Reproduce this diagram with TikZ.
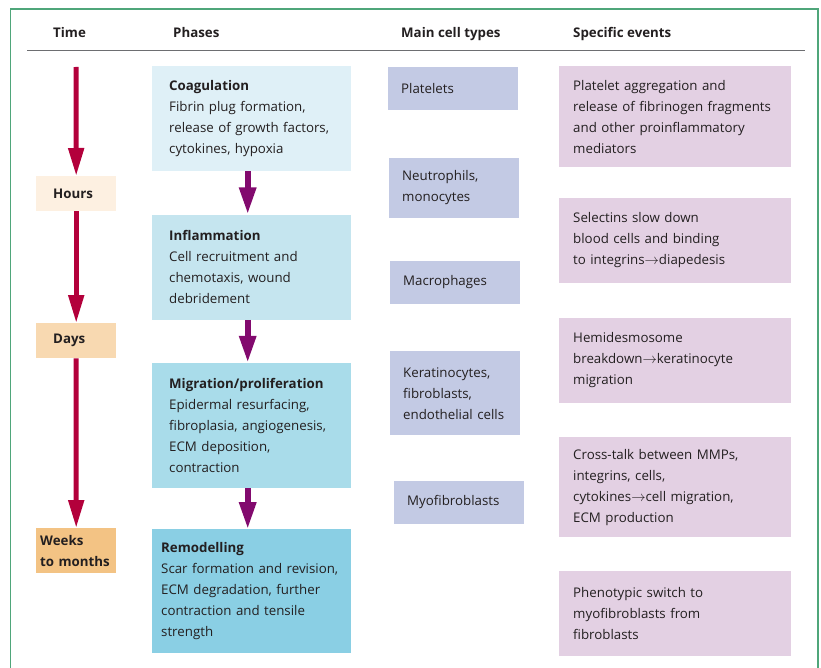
\documentclass[tikz,border=0pt]{standalone}
\usepackage{fontspec}
\setmainfont{Open Sans}
\usetikzlibrary{positioning,arrows.meta}
\definecolor{ink}{HTML}{231F20}
\definecolor{framegreen}{HTML}{4FA67A}
\definecolor{rulegray}{HTML}{6D6E71}
\definecolor{crimson}{HTML}{B3003B}
\definecolor{plum}{HTML}{820A6E}
\definecolor{phA}{HTML}{DFF0F7}
\definecolor{phB}{HTML}{C5E5EF}
\definecolor{phC}{HTML}{A9DCEA}
\definecolor{phD}{HTML}{8ACFE4}
\definecolor{tmA}{HTML}{FDF0E1}
\definecolor{tmB}{HTML}{F8D9B1}
\definecolor{tmC}{HTML}{F3C384}
\definecolor{cellc}{HTML}{C3CAE4}
\definecolor{evc}{HTML}{E3D0E3}
\newcommand{\txtsize}{\fontsize{13.3bp}{21bp}\selectfont}

\begin{document}
\begin{tikzpicture}[
  x=1bp, y=-1bp,
  box/.style={align=left, inner ysep=3bp, font=\txtsize, text=ink},
  phase/.style={box, text width=165bp, inner xsep=17bp},
  cell/.style={box, fill=cellc, text width=104bp, inner xsep=13bp},
  event/.style={box, fill=evc, text width=204bp, inner xsep=14bp},
  span/.style={box, font=\txtsize\bfseries, text width=46bp, inner xsep=17bp},
  head/.style={font=\txtsize\bfseries, text=ink, anchor=base west, inner sep=0pt},
  tarr/.style={-{Triangle[length=28bp,width=15bp]}, line width=5bp, draw=crimson},
  parr/.style={-{Triangle[length=27bp,width=16bp]}, line width=6bp, draw=plum}
]
\useasboundingbox (0,0) rectangle (821,668);
\draw[framegreen, line width=1.5bp] (10.5,668) -- (10.5,9) -- (818,9) -- (818,668);
\draw[rulegray, line width=1bp] (27,50.5) -- (805,50.5);

\node[head] (htime) at (53,38) {Time};
\node[head] (hphase) at (173,38) {Phases};
\node[head] (hcell) at (401,38) {Main cell types};
\node[head] (hevent) at (573,38) {Specific events};

% phases
\node[phase, fill=phA, minimum height=105bp, anchor=north west] (coag) at (152,66) {\textbf{Coagulation}\\Fibrin plug formation,\\release of growth factors,\\cytokines, hypoxia};
\node[phase, fill=phB, minimum height=105bp, below=43bp of coag] (infl) {\textbf{Inflammation}\\Cell recruitment and\\chemotaxis, wound\\debridement};
\node[phase, fill=phC, minimum height=125bp, below=43bp of infl] (migr) {\textbf{Migration/proliferation}\\Epidermal resurfacing,\\fibroplasia, angiogenesis,\\ECM deposition,\\contraction};
\node[phase, fill=phD, minimum height=124bp, below=41bp of migr, inner xsep=9bp, text width=181bp] (remod) {\textbf{Remodelling}\\Scar formation and revision,\\ECM degradation, further\\contraction and tensile\\strength};

% time
\coordinate (tstart) at (76,67);
\node[span, fill=tmA, minimum height=35bp, anchor=north west] (hours) at (36,176) {Hours};
\node[span, fill=tmB, minimum height=35bp, anchor=north west] (days) at (36,323) {Days};
\node[span, fill=tmC, minimum height=45bp, anchor=north west, inner xsep=4bp, text width=72bp] (weeks) at (36,528) {Weeks\\to months};

% cell types
\node[cell, minimum height=43bp, anchor=north west] (plat) at (388,67) {Platelets};
\node[cell, minimum height=60bp, below=47bp of plat, xshift=1bp] (neut) {Neutrophils,\\monocytes};
\node[cell, minimum height=43bp, below=43bp of neut, xshift=1bp] (macro) {Macrophages};
\node[cell, minimum height=84bp, below=47bp of macro] (kera) {Keratinocytes,\\fibroblasts,\\endothelial cells};
\node[cell, minimum height=43bp, below=45bp of kera, xshift=4bp] (myo) {Myofibroblasts};

% specific events
\node[event, minimum height=101bp, anchor=north west] (evA) at (559,66) {Platelet aggregation and\\release of fibrinogen fragments\\and other proinflammatory\\mediators};
\node[event, minimum height=85bp, below=30bp of evA] (evB) {Selectins slow down\\blood cells and binding\\to integrins$\rightarrow$diapedesis};
\node[event, minimum height=85bp, below=35bp of evB] (evC) {Hemidesmosome\\breakdown$\rightarrow$keratinocyte\\migration};
\node[event, minimum height=100bp, below=34bp of evC] (evD) {Cross-talk between MMPs,\\integrins, cells,\\cytokines$\rightarrow$cell migration,\\ECM production};
\node[event, minimum height=85bp, below=33bp of evD] (evE) {Phenotypic switch to\\myofibroblasts from\\fibroblasts};

\draw[tarr] (tstart) -- (hours.north);
\draw[tarr] (hours.south) -- (days.north);
\draw[tarr] (days.south) -- (weeks.north);
\draw[parr] ([xshift=-4bp]coag.south) -- ([xshift=-4bp]infl.north);
\draw[parr] ([xshift=-4bp]infl.south) -- ([xshift=-4bp]migr.north);
\draw[parr] ([xshift=-4bp]migr.south) -- ([xshift=-4bp]remod.north);
\end{tikzpicture}
\end{document}
